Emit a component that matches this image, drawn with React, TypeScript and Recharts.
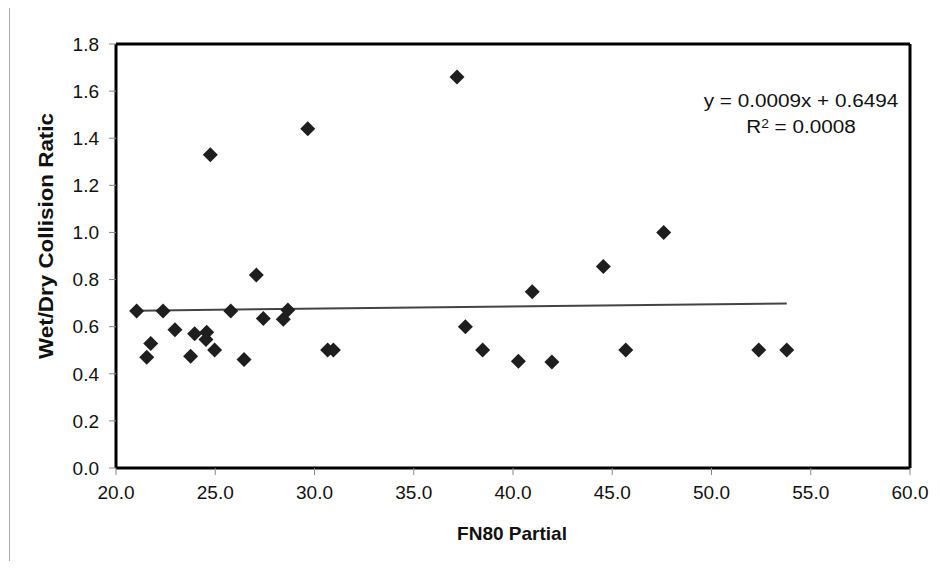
import React from 'react';
import {
  ScatterChart,
  Scatter,
  XAxis,
  YAxis,
  ReferenceLine
} from 'recharts';

// FN80 partial values (x) and wet/dry collision ratio (y)
const fn80 = [
  24.75, 29.66, 37.18, 47.59, 21.04, 22.37, 25.78, 28.66, 27.07, 27.42, 28.43,
  22.97, 23.96, 24.57, 24.53, 21.75, 21.55, 23.76, 24.97, 26.45, 30.66, 30.95,
  44.55, 40.97, 37.6, 38.47, 40.27, 41.96, 45.68, 52.38, 53.79
];
const ratio = [
  1.33, 1.44, 1.66, 1.0, 0.666, 0.666, 0.666, 0.671, 0.819, 0.635, 0.632,
  0.587, 0.57, 0.576, 0.546, 0.529, 0.47, 0.474, 0.501, 0.461, 0.501, 0.501,
  0.855, 0.748, 0.6, 0.501, 0.453, 0.45, 0.501, 0.501, 0.501
];

// linear trend end points
const trendX = [21.04, 53.79];
const trendY = [0.668, 0.698];

const xTicks = [20, 25, 30, 35, 40, 45, 50, 55, 60];
const yTicks = [0, 0.2, 0.4, 0.6, 0.8, 1.0, 1.2, 1.4, 1.6, 1.8];

const FONT = '"Liberation Sans", Arial, sans-serif';

const points = fn80.map((x, i) => ({ x, y: ratio[i] }));
const trend = trendX.map((x, i) => ({ x, y: trendY[i] }));

function Diamond(props: any) {
  const { cx, cy } = props;
  if (cx == null || cy == null) return null;
  const r = 7.5;
  return (
    <polygon
      points={`${cx},${cy - r} ${cx + r},${cy} ${cx},${cy + r} ${cx - r},${cy}`}
      fill="#1e1e1e"
    />
  );
}

export default function App() {
  return (
    <div style={{ position: 'relative', margin: -8, width: 940, height: 569, overflow: 'hidden', background: '#fff', fontFamily: FONT }}>
      <div
        style={{
          position: 'absolute',
          left: 9,
          top: 5,
          width: 960,
          height: 600,
          border: '1px solid #a8a8a8'
        }}
      />
      <div style={{ position: 'absolute', left: 0, top: 0 }}>
        <ScatterChart
          width={940}
          height={569}
          margin={{ top: 44, right: 30, bottom: 41, left: 0 }}
        >
          <XAxis
            type="number"
            dataKey="x"
            domain={[20, 60]}
            ticks={xTicks}
            allowDataOverflow
            tickFormatter={(v: number) => v.toFixed(1)}
            tick={{ fontSize: 19, fill: '#111', fontFamily: FONT }}
            tickSize={7}
            tickMargin={11}
            tickLine={{ stroke: '#888' }}
            axisLine={{ stroke: '#000', strokeWidth: 3 }}
            height={60}
          />
          <YAxis
            type="number"
            dataKey="y"
            domain={[0, 1.8]}
            ticks={yTicks}
            allowDataOverflow
            tickFormatter={(v: number) => v.toFixed(1)}
            tick={{ fontSize: 19, fill: '#111', fontFamily: FONT }}
            tickSize={7}
            tickMargin={10}
            tickLine={{ stroke: '#888' }}
            axisLine={{ stroke: '#000', strokeWidth: 3 }}
            width={116}
          />
          <ReferenceLine y={1.8} stroke="#000" strokeWidth={3} />
          <ReferenceLine x={60} stroke="#000" strokeWidth={3} />
          <Scatter
            data={trend}
            line={{ stroke: '#444', strokeWidth: 2 }}
            shape={() => null}
            isAnimationActive={false}
          />
          <Scatter data={points} shape={<Diamond />} isAnimationActive={false} />
        </ScatterChart>
      </div>
      <div
        style={{
          position: 'absolute',
          left: 46,
          top: 236,
          transform: 'translate(-50%, -50%) rotate(-90deg) scaleX(1.12)',
          whiteSpace: 'nowrap',
          fontWeight: 'bold',
          fontSize: 20,
          color: '#111'
        }}
      >
        Wet/Dry Collision Ratic
      </div>
      <div
        style={{
          position: 'absolute',
          left: 512,
          top: 534,
          transform: 'translate(-50%, -50%)',
          whiteSpace: 'nowrap',
          fontWeight: 'bold',
          fontSize: 19,
          color: '#111'
        }}
      >
        FN80 Partial
      </div>
      <div
        style={{
          position: 'absolute',
          left: 801,
          top: 88,
          width: 200,
          marginLeft: -100,
          textAlign: 'center',
          fontSize: 18,
          lineHeight: '26px',
          color: '#111',
          transform: 'scaleX(1.15)'
        }}
      >
        <div>y = 0.0009x + 0.6494</div>
        <div>
          R<sup style={{ fontSize: 12, verticalAlign: 'top', position: 'relative', top: -3 }}>2</sup> = 0.0008
        </div>
      </div>
    </div>
  );
}
